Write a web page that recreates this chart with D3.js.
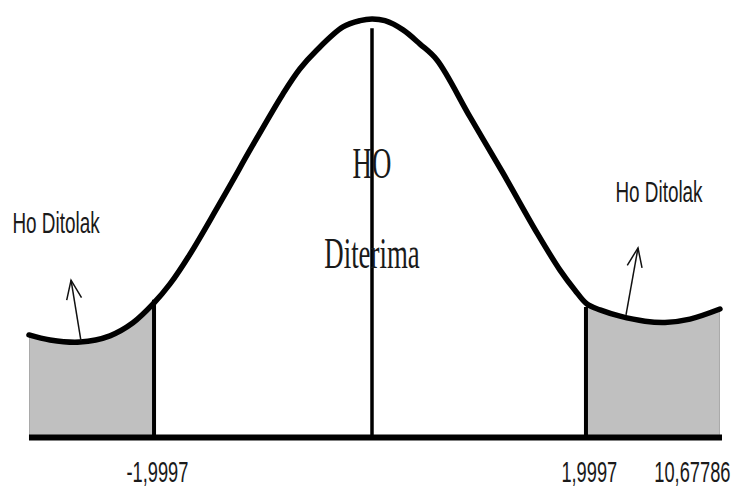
<!DOCTYPE html>
<html>
<head>
<meta charset="utf-8">
<script src="https://cdn.jsdelivr.net/npm/d3@7"></script>
<style>
  body { margin: 0; background: #fff; }
</style>
</head>
<body>
<div id="chart"></div>
<script>
// curve: position (z) and height (% of peak)
var curveZ = [-3.147, -2.954, -2.679, -2.404, -2.193, -2.009, -1.853, -1.670, -1.422, -1.275,
              -1.119, -0.817, -0.661, -0.505, -0.266, -0.110, 0,
              0.121, 0.290, 0.449, 0.607, 0.916, 1.224, 1.542, 1.757, 1.897, 2.009,
              2.131, 2.318, 2.551, 2.738, 2.972, 3.252];
var curveH = [24.5, 23.3, 22.8, 24.3, 27.4, 31.9, 36.7, 43.8, 54.8, 61.5,
              68.7, 82.1, 88.1, 92.6, 98.1, 99.6, 100,
              99.6, 97.4, 94.0, 90.2, 76.6, 63.2, 48.9, 40.0, 35.2, 31.9,
              30.5, 29.0, 27.8, 27.5, 28.3, 30.7];

// critical values and where their lines stop
var criticalZ = [-1.9997, 1.9997];
var criticalTopH = [32.9, 31.2];
var centerTopH = 97.8;

// x axis
var axisStart = -3.147, axisEnd = 3.271;
var tickValues = [-1.9997, 1.9997, 2.963];
var tickLabels = ["-1,9997", "1,9997", "10,67786"];

// tails (rejection areas)
var tailFrom = [-3.147, 1.9997];
var tailTo = [-1.9997, 3.252];

// annotations
var tailLabels = ["Ho Ditolak", "Ho Ditolak"];
var tailLabelZ = [-2.899, 2.682];
var tailLabelH = [48.9, 56.3];
var arrowFromZ = [-2.670, 2.374], arrowFromH = [23.1, 29.3];
var arrowToZ = [-2.761, 2.486], arrowToH = [37.6, 45.3];
var centerLabels = ["HO", "Diterima"];
var centerLabelH = [62.0, 40.5];

var svgWidth = 732, svgHeight = 487;

var svg = d3.select("#chart")
  .append("svg")
  .attr("width", svgWidth)
  .attr("height", svgHeight);

var x = d3.scaleLinear().domain([-2, 0, 2]).range([154, 372, 586]);
var y = d3.scaleLinear().domain([0, 100]).range([437.5, 19]);

var points = curveZ.map(function(z, i) { return [z, curveH[i]]; });

// clip for the shaded tails
var defs = svg.append("defs");
var clip = defs.append("clipPath").attr("id", "tails");
tailFrom.forEach(function(f, i) {
  clip.append("rect")
    .attr("x", x(f))
    .attr("y", 0)
    .attr("width", x(tailTo[i]) - x(f))
    .attr("height", svgHeight);
});

defs.append("marker")
  .attr("id", "head")
  .attr("markerUnits", "userSpaceOnUse")
  .attr("viewBox", "-20 -20 40 40")
  .attr("markerWidth", 40)
  .attr("markerHeight", 40)
  .attr("refX", 0)
  .attr("refY", 0)
  .attr("orient", "auto")
  .append("path")
  .attr("d", "M-19,-7.5L0,0L-19,7.5")
  .attr("fill", "none")
  .attr("stroke", "#111")
  .attr("stroke-width", 1.5);

var area = d3.area()
  .x(function(d) { return x(d[0]); })
  .y0(y(0))
  .y1(function(d) { return y(d[1]); })
  .curve(d3.curveCatmullRom.alpha(0.5));

svg.append("path")
  .datum(points)
  .attr("d", area)
  .attr("clip-path", "url(#tails)")
  .attr("fill", "#c0c0c0")
  .attr("stroke", "#a9a9a9")
  .attr("stroke-width", 2);

// critical lines
svg.selectAll(".crit")
  .data(criticalZ)
  .enter()
  .append("line")
  .attr("x1", function(d) { return x(d); })
  .attr("x2", function(d) { return x(d); })
  .attr("y1", function(d, i) { return y(criticalTopH[i]); })
  .attr("y2", y(0))
  .attr("stroke", "#000")
  .attr("stroke-width", 4);

// center line
svg.append("line")
  .attr("x1", x(0)).attr("x2", x(0))
  .attr("y1", y(centerTopH)).attr("y2", y(0))
  .attr("stroke", "#000")
  .attr("stroke-width", 3.5);

// bell curve
var line = d3.line()
  .x(function(d) { return x(d[0]); })
  .y(function(d) { return y(d[1]); })
  .curve(d3.curveCatmullRom.alpha(0.5));

svg.append("path")
  .datum(points)
  .attr("d", line)
  .attr("fill", "none")
  .attr("stroke", "#000")
  .attr("stroke-width", 5.5)
  .attr("stroke-linecap", "round");

// baseline
svg.append("line")
  .attr("x1", x(axisStart)).attr("x2", x(axisEnd))
  .attr("y1", y(0)).attr("y2", y(0))
  .attr("stroke", "#000")
  .attr("stroke-width", 6);

// axis labels
var xAxis = d3.axisBottom(x)
  .tickValues(tickValues)
  .tickFormat(function(d, i) { return tickLabels[i]; })
  .tickSize(0);

var axisG = svg.append("g")
  .attr("transform", "translate(0," + y(0) + ")")
  .call(xAxis);
axisG.select(".domain").remove();
axisG.selectAll("text")
  .attr("y", 45)
  .attr("dy", 0)
  .attr("dx", 4.5)
  .attr("transform", "scale(0.63,1)")
  .style("font-family", "'Liberation Sans', Arial, sans-serif")
  .style("font-size", "29px")
  .attr("fill", "#1a1a1a");

// arrows
arrowFromZ.forEach(function(z, i) {
  svg.append("line")
    .attr("x1", x(z)).attr("y1", y(arrowFromH[i]))
    .attr("x2", x(arrowToZ[i])).attr("y2", y(arrowToH[i]))
    .attr("stroke", "#111")
    .attr("stroke-width", 1.5)
    .attr("marker-end", "url(#head)");
});

// tail labels
tailLabels.forEach(function(t, i) {
  svg.append("g")
    .attr("transform", "translate(" + x(tailLabelZ[i]) + "," + y(tailLabelH[i]) + ")")
    .append("text")
    .attr("transform", "scale(0.63,1)")
    .attr("text-anchor", "middle")
    .style("font-family", "'Liberation Sans', Arial, sans-serif")
    .style("font-size", "30px")
    .attr("fill", "#1a1a1a")
    .text(t);
});

// center labels
centerLabels.forEach(function(t, i) {
  svg.append("g")
    .attr("transform", "translate(" + x(0) + "," + y(centerLabelH[i]) + ")")
    .append("text")
    .attr("transform", "scale(0.61,1)")
    .attr("text-anchor", "middle")
    .style("font-family", "'Liberation Serif', 'Times New Roman', serif")
    .style("font-size", "44px")
    .attr("fill", "#1a1a1a")
    .text(t);
});
</script>
</body>
</html>
